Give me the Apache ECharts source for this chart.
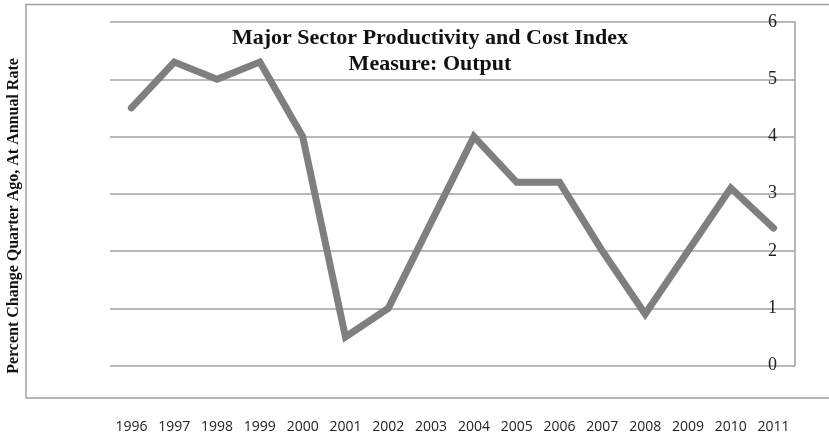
<!DOCTYPE html>
<html>
<head>
<meta charset="utf-8">
<script src="https://cdn.jsdelivr.net/npm/echarts@6/dist/echarts.min.js"></script>
<style>
  html, body { margin: 0; padding: 0; background: #fff; }
  #chart { width: 829px; height: 436px; }
</style>
</head>
<body>
<div id="chart"></div>
<script>
// Annual output growth, major sector
const years = ['1996', '1997', '1998', '1999', '2000', '2001', '2002', '2003',
               '2004', '2005', '2006', '2007', '2008', '2009', '2010', '2011'];
const outputChange = [4.5, 5.3, 5.0, 5.3, 4.0, 0.5, 1.0, 2.5,
                      4.0, 3.2, 3.2, 2.0, 0.9, 2.0, 3.1, 2.4];
const yTicks = [0, 1, 2, 3, 4, 5, 6];

const titleText = 'Major Sector Productivity and Cost Index\nMeasure: Output';
const yAxisTitle = 'Percent Change Quarter Ago, At Annual Rate';

const chart = echarts.init(document.getElementById('chart'), null, { renderer: 'canvas' });

chart.setOption({
  animation: false,
  backgroundColor: '#ffffff',
  title: {
    text: titleText,
    left: 425,
    top: 20,
    textAlign: 'center',
    textStyle: {
      fontFamily: 'Liberation Serif',
      fontWeight: 'bold',
      fontSize: 22,
      lineHeight: 26,
      color: '#111'
    }
  },
  graphic: [
    {
      type: 'rect',
      shape: { x: 26, y: 4.5, width: 840, height: 393.5 },
      style: { fill: 'none', stroke: '#a0a0a0', lineWidth: 1.5 },
      silent: true
    },
    {
      type: 'text',
      x: 14,
      y: 216,
      rotation: Math.PI / 2,
      style: {
        text: yAxisTitle,
        fontFamily: 'Liberation Serif',
        fontWeight: 'bold',
        fontSize: 16,
        fill: '#111',
        align: 'center',
        verticalAlign: 'middle'
      }
    }
  ],
  grid: { left: 110, right: 34, top: 22, bottom: 70.5, containLabel: false },
  xAxis: {
    type: 'category',
    data: years,
    boundaryGap: true,
    axisLine: { show: false },
    axisTick: { show: false },
    splitLine: { show: false },
    axisLabel: {
      margin: 55,
      fontFamily: 'Open Sans',
      fontSize: 14,
      color: '#222'
    }
  },
  yAxis: {
    type: 'value',
    position: 'right',
    min: 0,
    max: 6,
    interval: 1,
    axisLine: { show: true, lineStyle: { color: '#a0a0a0', width: 1.5 } },
    axisTick: { show: false },
    splitLine: { show: true, lineStyle: { color: '#a0a0a0', width: 1.5 } },
    axisLabel: {
      inside: true,
      margin: 18,
      fontFamily: 'Liberation Serif',
      fontSize: 18,
      color: '#222',
      formatter: v => (yTicks.includes(v) ? String(v) : '')
    }
  },
  series: [
    {
      type: 'line',
      data: outputChange,
      symbol: 'none',
      lineStyle: { color: '#7f7f7f', width: 7, cap: 'round', join: 'miter' },
      z: 3
    }
  ]
});
</script>
</body>
</html>
